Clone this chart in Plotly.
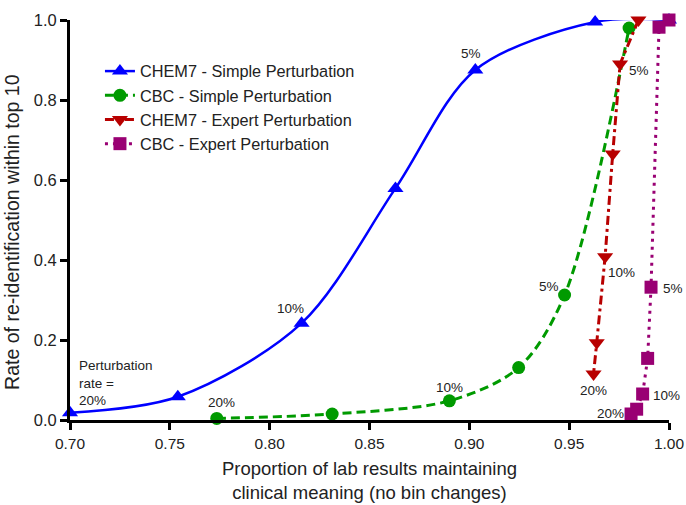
import plotly.graph_objects as go

# ---- data ----
chem7_simple_x = [0.700, 0.754, 0.816, 0.863, 0.903, 0.963, 1.000]
chem7_simple_y = [0.018, 0.058, 0.242, 0.579, 0.875, 0.995, 1.000]

cbc_simple_x = [0.7735, 0.8313, 0.890, 0.9247, 0.9477, 0.980]
cbc_simple_y = [0.004, 0.015, 0.048, 0.131, 0.3125, 0.980]

chem7_expert_x = [0.9847, 0.9755, 0.9718, 0.968, 0.9638, 0.9622]
chem7_expert_y = [1.000, 0.890, 0.665, 0.408, 0.193, 0.115]

cbc_expert_x = [1.000, 0.995, 0.991, 0.9893, 0.9868, 0.9838, 0.981]
cbc_expert_y = [1.000, 0.982, 0.332, 0.154, 0.065, 0.027, 0.015]

series_names = ["CHEM7 - Simple Perturbation", "CBC - Simple Perturbation",
                "CHEM7 - Expert Perturbation", "CBC - Expert Perturbation"]

x_ticks = [0.70, 0.75, 0.80, 0.85, 0.90, 0.95, 1.00]
y_ticks = [0.0, 0.2, 0.4, 0.6, 0.8, 1.0]

x_title = "Proportion of lab results maintaining<br>clinical meaning (no bin changes)"
y_title = "Rate of re-identification within top 10"

# annotation texts and anchor points (x, y, text, xanchor)
labels = [
    (0.7035, 0.093, "Perturbation<br>rate =<br>20%", "left"),
    (0.8102, 0.279, "10%", "center"),
    (0.901, 0.917, "5%", "center"),
    (1.000, 1.031, "0%", "center"),
    (0.776, 0.043, "20%", "center"),
    (0.890, 0.082, "10%", "center"),
    (0.9397, 0.333, "5%", "center"),
    (0.9852, 0.873, "5%", "center"),
    (0.9763, 0.368, "10%", "center"),
    (0.9622, 0.073, "20%", "center"),
    (0.996, 0.329, "5%", "left"),
    (0.9908, 0.0625, "10%", "left"),
    (0.9705, 0.017, "20%", "center"),
]

BLUE = "#0000ff"
GREEN = "#009a00"
RED = "#b80000"
MAG = "#990073"
FONT = "Liberation Sans, Arial, sans-serif"
TXT = "#222"

fig = go.Figure()
fig.add_trace(go.Scatter(
    x=chem7_simple_x, y=chem7_simple_y, name=series_names[0], mode="lines+markers",
    line=dict(color=BLUE, width=2.5, shape="spline", smoothing=0.9),
    marker=dict(symbol="triangle-up", size=14, color=BLUE), cliponaxis=False))
fig.add_trace(go.Scatter(
    x=cbc_simple_x, y=cbc_simple_y, name=series_names[1], mode="lines+markers",
    line=dict(color=GREEN, width=3, dash="9px,5px", shape="spline", smoothing=0.9),
    marker=dict(symbol="circle", size=13, color=GREEN), cliponaxis=False))
fig.add_trace(go.Scatter(
    x=chem7_expert_x, y=chem7_expert_y, name=series_names[2], mode="lines+markers",
    line=dict(color=RED, width=3, dash="9px,4px,3px,4px"),
    marker=dict(symbol="triangle-down", size=14, color=RED), cliponaxis=False))
fig.add_trace(go.Scatter(
    x=cbc_expert_x, y=cbc_expert_y, name=series_names[3], mode="lines+markers",
    line=dict(color=MAG, width=3, dash="3px,5px"),
    marker=dict(symbol="square", size=13, color=MAG), cliponaxis=False))

for x, y, t, xa in labels:
    fig.add_annotation(x=x, y=y, text=t, showarrow=False, xanchor=xa, yanchor="middle",
                       align="left", font=dict(family=FONT, size=13.5, color=TXT))

# y-axis title as rotated text (placed like the reference)
fig.add_annotation(xref="paper", yref="paper", x=-0.097, y=0.47, text=y_title,
                   textangle=-90, showarrow=False, xanchor="center", yanchor="middle",
                   font=dict(family=FONT, size=19.5, color=TXT))

fig.update_layout(
    width=686, height=505,
    margin=dict(l=70, r=17, t=20, b=85),
    paper_bgcolor="white", plot_bgcolor="white",
    font=dict(family=FONT, color=TXT),
    showlegend=True,
    legend=dict(x=0.05, y=0.915, xanchor="left", yanchor="top",
                bgcolor="rgba(0,0,0,0)", font=dict(size=16.3, family=FONT, color=TXT),
                itemwidth=30),
    xaxis=dict(range=[0.70, 1.00], tickvals=x_ticks, ticktext=[f"{v:.2f}" for v in x_ticks],
               automargin=False,
               showgrid=False, zeroline=False, showline=True, linecolor="black", linewidth=3,
               ticks="outside", ticklen=7, tickwidth=3, tickcolor="black",
               tickfont=dict(size=15.5, family=FONT, color=TXT),
               title=dict(text=x_title,
                          font=dict(size=18.5, family=FONT, color=TXT), standoff=12)),
    yaxis=dict(range=[0, 1.0], tickvals=y_ticks, ticktext=[f"{v:.1f}" for v in y_ticks],
               automargin=False,
               showgrid=False, zeroline=False, showline=True, linecolor="black", linewidth=3,
               ticks="outside", ticklen=7, tickwidth=3, tickcolor="black",
               tickfont=dict(size=16.5, family=FONT, color=TXT)),
)

fig.write_html("out.html", config={"displayModeBar": False},
               post_script="document.body.style.margin='0';")
